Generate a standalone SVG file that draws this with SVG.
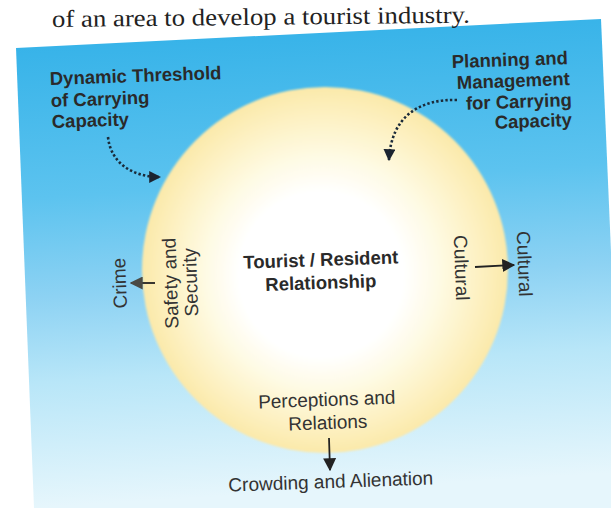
<svg xmlns="http://www.w3.org/2000/svg" width="611" height="508" viewBox="0 0 611 508">
  <defs>
    <linearGradient id="sky" gradientUnits="userSpaceOnUse" x1="0" y1="10" x2="30" y2="508">
      <stop offset="0" stop-color="#2eafe7"/>
      <stop offset="0.38" stop-color="#5cc3ef"/>
      <stop offset="0.58" stop-color="#8dd2f3"/>
      <stop offset="0.75" stop-color="#b8e6f8"/>
      <stop offset="1" stop-color="#e6f6fc"/>
    </linearGradient>
    <radialGradient id="sun" gradientUnits="userSpaceOnUse" cx="325" cy="270" r="183" fx="318" fy="278">
      <stop offset="0" stop-color="#ffffff"/>
      <stop offset="0.45" stop-color="#ffffff"/>
      <stop offset="0.65" stop-color="#fefae2"/>
      <stop offset="0.87" stop-color="#fdf0bf"/>
      <stop offset="1" stop-color="#fbe9aa"/>
    </radialGradient>
    <filter id="soft" x="-5%" y="-5%" width="110%" height="110%">
      <feGaussianBlur stdDeviation="1.2"/>
    </filter>
    <marker id="tri" viewBox="0 0 10 10" refX="9" refY="5" markerWidth="12" markerHeight="12" markerUnits="userSpaceOnUse" orient="auto">
      <path d="M0,0 L10,5 L0,10 Z" fill="#1b2430"/>
    </marker>
    <marker id="tri2" viewBox="0 0 10 10" refX="9" refY="5" markerWidth="13" markerHeight="13" markerUnits="userSpaceOnUse" orient="auto">
      <path d="M0,0 L10,5 L0,10 Z" fill="#222222"/>
    </marker>
    <marker id="triGray" viewBox="0 0 10 10" refX="9" refY="5" markerWidth="13" markerHeight="13" markerUnits="userSpaceOnUse" orient="auto">
      <path d="M0,0 L10,5 L0,10 Z" fill="#4a4a44"/>
    </marker>
  </defs>
  <style>
    .page { font-family: "Liberation Serif", "DejaVu Serif", serif; font-size: 24px; fill: #222; }
    .bold { font-family: "Liberation Sans", Arial, sans-serif; font-weight: bold; font-size: 18.5px; fill: #2a2a2a; }
    .norm { font-family: "Liberation Sans", Arial, sans-serif; font-size: 19px; fill: #333; }
    .dots { fill: none; stroke: #1b2b3a; stroke-width: 2.6; stroke-dasharray: 2.4 2.2; }
    .solid { fill: none; stroke: #222; stroke-width: 1.8; }
  </style>

  <rect width="611" height="508" fill="#ffffff"/>
  <polygon points="16,48 601,19 622,508 34,508" fill="url(#sky)"/>
  <text class="page" x="52" y="27" transform="rotate(-0.6 52 27)" textLength="418" lengthAdjust="spacingAndGlyphs">of an area to develop a tourist industry.</text>

  <g id="circle">
    <circle cx="325" cy="270" r="183" fill="url(#sun)" filter="url(#soft)"/>
  </g>

  <g id="center-node">
    <text class="bold" text-anchor="middle" transform="translate(321 266) rotate(-2)">Tourist / Resident</text>
    <text class="bold" text-anchor="middle" transform="translate(321 289) rotate(-2)">Relationship</text>
  </g>

  <g id="dynamic-threshold">
    <text class="bold" transform="translate(50 85) rotate(-2)">Dynamic Threshold</text>
    <text class="bold" transform="translate(51 107) rotate(-2)">of Carrying</text>
    <text class="bold" transform="translate(52 128) rotate(-2)">Capacity</text>
  </g>

  <g id="planning">
    <text class="bold" text-anchor="end" transform="translate(568 64) rotate(-2)">Planning and</text>
    <text class="bold" text-anchor="end" transform="translate(570 85) rotate(-2)">Management</text>
    <text class="bold" text-anchor="end" transform="translate(572 106) rotate(-2)">for Carrying</text>
    <text class="bold" text-anchor="end" transform="translate(572 126) rotate(-2)">Capacity</text>
  </g>

  <g id="safety">
    <text class="norm" text-anchor="middle" transform="translate(177 283) rotate(-92)">Safety and</text>
    <text class="norm" text-anchor="middle" transform="translate(197 282) rotate(-92)">Security</text>
  </g>

  <g id="crime">
    <text class="norm" text-anchor="middle" transform="translate(126 283) rotate(-92)">Crime</text>
  </g>

  <g id="cultural-inner">
    <text class="norm" text-anchor="middle" transform="translate(455 268) rotate(88)">Cultural</text>
  </g>

  <g id="cultural-outer">
    <text class="norm" text-anchor="middle" transform="translate(518 264) rotate(88)">Cultural</text>
  </g>

  <g id="perceptions">
    <text class="norm" text-anchor="middle" transform="translate(327 406) rotate(-2)">Perceptions and</text>
    <text class="norm" text-anchor="middle" transform="translate(328 429) rotate(-2)">Relations</text>
  </g>

  <g id="crowding">
    <text class="norm" text-anchor="middle" transform="translate(331 488) rotate(-2)">Crowding and Alienation</text>
  </g>

  <g id="connectors">
    <path class="dots" d="M108,137 C111,165 135,177 160,177" marker-end="url(#tri)"/>
    <path class="dots" d="M457,100 C420,99 391,116 389,160" marker-end="url(#tri)"/>
    <path class="solid" d="M155,283 L131,283" stroke="#4a4a44" marker-end="url(#triGray)"/>
    <path class="solid" d="M475,267 L514,265" marker-end="url(#tri2)"/>
    <path class="solid" d="M329,438 L330,470" marker-end="url(#tri2)"/>
  </g>
</svg>
